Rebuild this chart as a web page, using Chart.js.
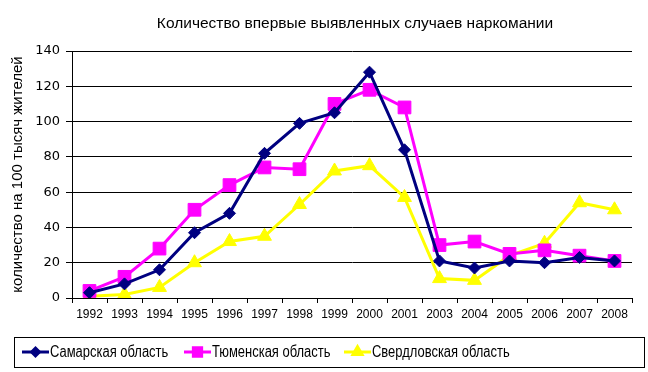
<!DOCTYPE html>
<html>
<head>
<meta charset="utf-8">
<script src="https://cdn.jsdelivr.net/npm/chart.js@4/dist/chart.umd.min.js"></script>
<style>
  body { margin: 0; background: #fff; }
  #wrap { width: 648px; height: 372px; }
</style>
</head>
<body>
<div id="wrap"><canvas id="chart" width="648" height="372"></canvas></div>
<script>
// data
var years = ['1992', '1993', '1994', '1995', '1996', '1997', '1998', '1999', '2000', '2001', '2003', '2004', '2005', '2006', '2007', '2008'];
var samara = [3, 8, 16, 37, 48, 82, 99, 105, 128, 84, 21, 17, 21, 20, 23, 21];
var tyumen = [4, 12, 28, 50, 64, 74, 73, 110, 118, 108, 30, 32, 25, 27, 24, 21];
var sverdl = [1, 2, 6, 20, 32, 35, 53, 72, 75, 57, 11, 10, 24, 31, 54, 50];
var seriesNames = ['Самарская область', 'Тюменская область', 'Свердловская область'];
var yTicks = [0, 20, 40, 60, 80, 100, 120, 140];
var chartTitle = 'Количество впервые выявленных случаев наркомании';

var FONT = 'Arial, "Liberation Sans", sans-serif';

// Function to draw the title and the boxed legend
var extras = {
    id: 'extras',
    afterDraw: function(chart) {
        var ctx = chart.ctx;
        ctx.save();
        // title
        ctx.fillStyle = '#000';
        ctx.font = '15.5px ' + FONT;
        ctx.textAlign = 'center';
        ctx.textBaseline = 'middle';
        ctx.fillText(chartTitle, 355, 24);

        // legend box
        ctx.strokeStyle = '#000';
        ctx.lineWidth = 1;
        ctx.strokeRect(14.5, 337.5, 630, 30);
        var starts = [22, 184, 344];
        var y = 352;
        ctx.font = '16px ' + FONT;
        ctx.textAlign = 'left';
        for (var i = 0; i < starts.length; i++) {
            var ds = chart.data.datasets[i];
            var x = starts[i];
            ctx.strokeStyle = ds.borderColor;
            ctx.lineWidth = 3;
            ctx.beginPath();
            ctx.moveTo(x, y);
            ctx.lineTo(x + 27, y);
            ctx.stroke();
            ctx.fillStyle = ds.backgroundColor;
            Chart.helpers.drawPoint(ctx, {
                pointStyle: ds.pointStyle,
                radius: ds.pointRadius * 0.65,
                borderWidth: 1
            }, x + 13.5, y);
            // squeezed text, like the original
            ctx.save();
            ctx.translate(x + 28, y + 1);
            ctx.scale(0.81, 1);
            ctx.fillStyle = '#000';
            ctx.fillText(ds.label, 0, 0);
            ctx.restore();
        }
        ctx.restore();
    }
};

var ctx = document.getElementById('chart').getContext('2d');

function makeSet(label, data, color, style, radius) {
    return {
        label: label,
        data: data,
        borderColor: color,
        backgroundColor: color,
        pointBackgroundColor: color,
        pointBorderColor: color,
        borderWidth: 3,
        pointStyle: style,
        pointRadius: radius,
        pointBorderWidth: 1,
        tension: 0
    };
}

window.lineChart = new Chart(ctx, {
    type: 'line',
    data: {
        labels: years,
        datasets: [
            makeSet(seriesNames[0], samara, '#000080', 'rectRot', 6),
            makeSet(seriesNames[1], tyumen, '#FF00FF', 'rect', 9),
            makeSet(seriesNames[2], sverdl, '#FFFF00', 'triangle', 8)
        ]
    },
    options: {
        responsive: false,
        animation: false,
        devicePixelRatio: 1,
        layout: { padding: { left: 4, right: 16, top: 51, bottom: 48 } },
        plugins: {
            legend: { display: false },
            tooltip: { enabled: false },
            title: { display: false }
        },
        scales: {
            x: {
                offset: true,
                afterFit: function(axis) { axis.height = 26; },
                grid: {
                    offset: true,
                    drawOnChartArea: false,
                    drawTicks: true,
                    tickLength: 5,
                    color: '#000'
                },
                border: { color: '#000', width: 1 },
                ticks: {
                    color: '#000',
                    font: { family: FONT, size: 12 },
                    maxRotation: 0,
                    autoSkip: false,
                    padding: 4
                }
            },
            y: {
                min: 0,
                max: 140,
                afterBuildTicks: function(axis) {
                    axis.ticks = yTicks.map(function(v) { return { value: v }; });
                },
                afterFit: function(axis) { axis.width = 68; },
                grid: {
                    color: '#000',
                    tickLength: 6,
                    lineWidth: 1
                },
                border: { color: '#000', width: 1 },
                ticks: {
                    color: '#000',
                    font: { family: '"DejaVu Sans", sans-serif', size: 13 },
                    padding: 6
                },
                title: {
                    display: true,
                    text: 'количество на 100 тысяч жителей',
                    color: '#000',
                    font: { family: FONT, size: 15 },
                    padding: { top: 5, bottom: 0 }
                }
            }
        }
    },
    plugins: [extras]
});
</script>
</body>
</html>
